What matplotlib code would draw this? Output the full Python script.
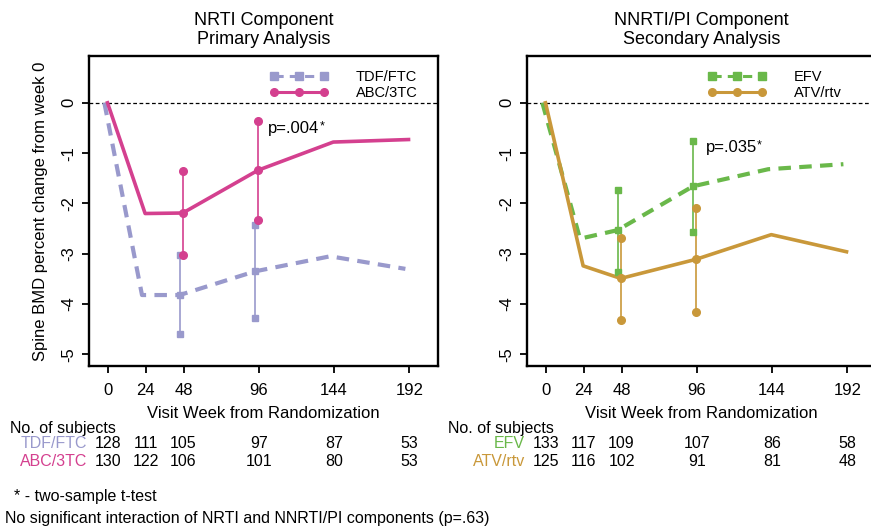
import numpy as np
import matplotlib.pyplot as plt
from matplotlib.lines import Line2D

plt.rcParams['font.family'] = ['Liberation Sans', 'DejaVu Sans']
plt.rcParams['axes.unicode_minus'] = False

# datos
weeks = [0, 24, 48, 96, 144, 192]
ci_weeks = [48, 96]

tdf_mean = [0, -3.82, -3.82, -3.35, -3.05, -3.30]
tdf_lo = [-4.60, -4.27]
tdf_hi = [-3.03, -2.43]
abc_mean = [0, -2.20, -2.19, -1.34, -0.78, -0.73]
abc_lo = [-3.03, -2.33]
abc_hi = [-1.36, -0.37]

efv_mean = [0, -2.70, -2.53, -1.66, -1.32, -1.22]
efv_lo = [-3.37, -2.57]
efv_hi = [-1.73, -0.75]
atv_mean = [0, -3.24, -3.49, -3.11, -2.62, -2.96]
atv_lo = [-4.31, -4.15]
atv_hi = [-2.68, -2.09]

n_tdf = [128, 111, 105, 97, 87, 53]
n_abc = [130, 122, 106, 101, 80, 53]
n_efv = [133, 117, 109, 107, 86, 58]
n_atv = [125, 116, 102, 91, 81, 48]

c_tdf, c_abc = '#9999CC', '#D4408F'
c_efv, c_atv = '#6AB84A', '#C9983A'

W, H = 871, 529
fig = plt.figure(figsize=(W / 100, H / 100), dpi=100)


def ypx(y):
    # pixel vertical -> coordenada de ejes
    return (366 - y) / 310


def panel(left_px, title, sA, sB, ptext, pxy, ylabel):
    ax = fig.add_axes([left_px / W, (H - 366) / H, 349 / W, 310 / H])
    ax.set_xlim(-12.3, 210.3)
    ax.set_ylim(-5.23, 0.93)
    ax.axhline(0, color='k', lw=0.9, ls=(0, (3, 2)), zorder=1)

    handles = []
    for s, dx, ls, lw, mk in [(sA, -2.5, (0, (3, 2)), 3.0, 's'),
                              (sB, -0.5, '-', 2.6, 'o')]:
        name, mean, lo, hi, col, counts = s
        x = np.array(weeks) + dx
        ax.plot(x, mean, color=col, lw=lw, ls=ls, zorder=3)
        xc = np.array(ci_weeks) + dx
        mid = [mean[weeks.index(w)] for w in ci_weeks]
        ax.vlines(xc, lo, hi, color=col, lw=1.2, zorder=2)
        for yy in (lo, mid, hi):
            ax.plot(xc, yy, ls='none', marker=mk, color=col,
                    ms=5.5 if mk == 'o' else 5, zorder=4)
        handles.append(Line2D([0], [0], color=col, ls=ls, lw=2.2,
                              marker=mk, ms=5.5))
    ax.legend(handles, [sA[0], sB[0]], loc='upper left',
              bbox_to_anchor=(0.518, 0.955), frameon=False, fontsize=10.5,
              handlelength=4.0, handletextpad=1.9, labelspacing=0.12,
              borderpad=0, borderaxespad=0, numpoints=3)

    t = ax.text(pxy[0], pxy[1], ptext, fontsize=12, ha='left', va='center')
    ax.annotate('*', xy=(1.0, 1.02), xycoords=t, ha='left', va='top',
                fontsize=9)

    ax.set_xticks(weeks)
    ax.set_yticks([-5, -4, -3, -2, -1, 0])
    ax.tick_params(direction='out', length=5, width=1.3, labelsize=12)
    ax.tick_params(axis='x', pad=7)
    ax.tick_params(axis='y', pad=4, labelrotation=90)
    for lab in ax.get_yticklabels():
        lab.set_va('center')
    for sp in ax.spines.values():
        sp.set_linewidth(1.7)

    ax.text(0.5, ypx(30), title, transform=ax.transAxes, ha='center',
            va='center', fontsize=13, linespacing=1.15)
    if ylabel:
        ax.set_ylabel('Spine BMD percent change from week 0', fontsize=12)
        ax.yaxis.set_label_coords(-0.118, 0.5)

    ax.text(0.5, ypx(414), 'Visit Week from Randomization',
            transform=ax.transAxes, ha='center', va='center', fontsize=12)

    tr = ax.get_xaxis_transform()
    ax.text(-0.226, ypx(428), 'No. of subjects', transform=ax.transAxes,
            ha='left', va='center', fontsize=11.5)
    for (name, counts, col), yp in zip([(sA[0], sA[5], sA[4]),
                                        (sB[0], sB[5], sB[4])], [444, 461]):
        ax.text(-0.006, ypx(yp), name, transform=ax.transAxes, ha='right',
                va='center', fontsize=11.5, color=col)
        for w, n in zip(weeks, counts):
            ax.text(w, ypx(yp), str(n), transform=tr, ha='center',
                    va='center', fontsize=11.5)
    return ax


panel(89, 'NRTI Component\nPrimary Analysis',
      ('TDF/FTC', tdf_mean, tdf_lo, tdf_hi, c_tdf, n_tdf),
      ('ABC/3TC', abc_mean, abc_lo, abc_hi, c_abc, n_abc),
      'p=.004', (102, -0.51), True)
panel(527, 'NNRTI/PI Component\nSecondary Analysis',
      ('EFV', efv_mean, efv_lo, efv_hi, c_efv, n_efv),
      ('ATV/rtv', atv_mean, atv_lo, atv_hi, c_atv, n_atv),
      'p=.035', (101.7, -0.89), False)

fig.text(14 / W, 1 - 497 / H, '* - two-sample t-test', fontsize=11.5,
         ha='left', va='center')
fig.text(5 / W, 1 - 519 / H,
         'No significant interaction of NRTI and NNRTI/PI components (p=.63)',
         fontsize=11.5, ha='left', va='center')

fig.savefig('out.png', dpi=100)
